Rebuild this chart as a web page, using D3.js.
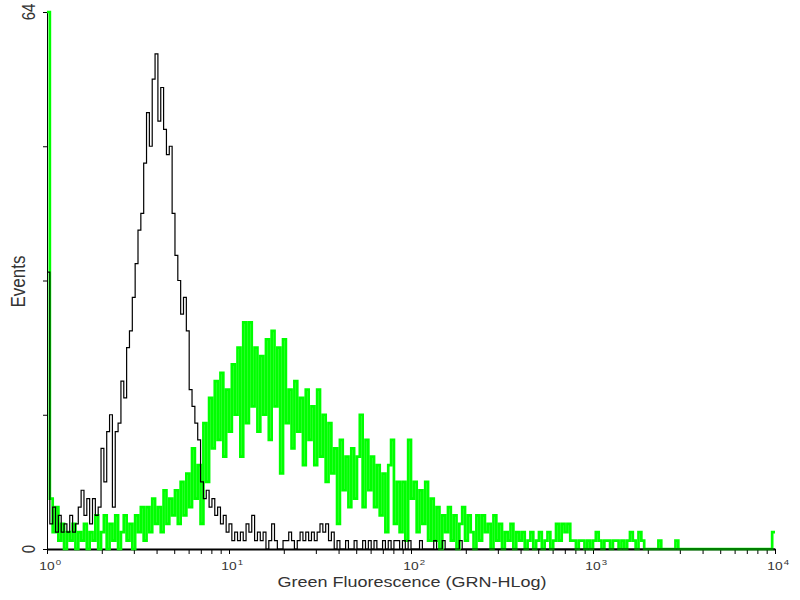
<!DOCTYPE html>
<html>
<head>
<meta charset="utf-8">
<script src="https://cdn.jsdelivr.net/npm/d3@7"></script>
<style>
  body { margin: 0; background: #fff; }
  svg text { font-family: "Liberation Sans", Arial, sans-serif; fill: #333; }
</style>
</head>
<body>
<script>
// counts per channel, 256 log channels spread over 4 decades
const controlCounts = [
  33, 3, 5, 2, 4, 2, 3, 2, 4, 2, 3, 5, 7, 4, 6, 3, 6, 4, 5, 12,
  8, 14, 16, 5, 14, 15, 20, 18, 24, 26, 30, 34, 38, 40, 46, 52, 48, 56, 59, 51,
  55, 50, 47, 48, 40, 35, 32, 28, 30, 26, 19, 17, 15, 13, 8, 6, 7, 5, 6, 4,
  5, 3, 4, 2, 3, 1, 2, 1, 2, 1, 3, 2, 4, 1, 2, 1, 2, 0, 1, 3,
  1, 0, 0, 1, 1, 2, 1, 0, 1, 2, 1, 2, 1, 2, 1, 2, 3, 2, 3, 1,
  2, 0, 1, 0, 0, 1, 0, 0, 1, 0, 0, 1, 0, 1, 0, 1, 0, 0, 1, 0,
  1, 0, 1, 1, 0, 1, 0, 1, 0, 0, 0, 1, 0, 0, 0, 0, 1, 0, 0, 1,
  0, 0, 0, 0, 0, 1, 0, 0, 0, 0, 0, 0, 0, 0, 0, 0, 0, 0, 0, 0,
  0, 0, 0, 0, 0, 0, 0, 0, 0, 0, 0, 0, 0, 0, 0, 0, 0, 0, 0, 0,
  0, 0, 0, 0, 0, 0, 0, 0, 0, 0, 0, 0, 0, 0, 0, 0, 0, 0, 0, 0,
  0, 0, 0, 0, 0, 0, 0, 0, 0, 0, 0, 0, 0, 0, 0, 0, 0, 0, 0, 0,
  0, 0, 0, 0, 0, 0, 0, 0, 0, 0, 0, 0, 0, 0, 0, 0, 0, 0, 0, 0,
  0, 0, 0, 0, 0, 0, 0, 0, 0, 0, 0, 0, 0, 0, 0, 0
];

const greenCounts = [
  64, 6, 2, 5, 1, 3, 0, 2, 1, 3, 0, 2, 1, 3, 0, 2, 1, 4, 0, 2,
  4, 0, 3, 1, 4, 0, 2, 4, 1, 3, 0, 4, 2, 5, 1, 5, 2, 6, 3, 5,
  2, 7, 3, 6, 4, 7, 3, 8, 4, 9, 5, 12, 6, 10, 3, 15, 8, 18, 12, 20,
  13, 21, 11, 19, 14, 22, 16, 24, 11, 27, 15, 27, 17, 24, 14, 23, 16, 25, 13, 26,
  17, 24, 9, 25, 15, 19, 12, 20, 14, 18, 10, 19, 13, 17, 10, 19, 11, 16, 8, 15,
  9, 12, 3, 13, 7, 11, 5, 12, 6, 11, 16, 5, 13, 7, 11, 5, 10, 4, 9, 2,
  10, 13, 3, 8, 2, 8, 1, 13, 6, 8, 2, 7, 3, 8, 1, 6, 1, 5, 0, 4,
  2, 5, 1, 4, 0, 3, 5, 1, 4, 2, 0, 4, 1, 4, 2, 3, 0, 4, 1, 3,
  0, 2, 1, 3, 0, 2, 1, 2, 0, 1, 2, 0, 1, 2, 0, 1, 2, 0, 1, 3,
  1, 3, 2, 3, 1, 1, 0, 1, 1, 0, 1, 0, 1, 2, 1, 0, 1, 1, 0, 1,
  1, 0, 1, 0, 1, 2, 1, 0, 2, 1, 0, 0, 0, 0, 0, 1, 0, 0, 0, 0,
  0, 1, 0, 0, 0, 0, 0, 0, 0, 0, 0, 0, 0, 0, 0, 0, 0, 0, 0, 0,
  0, 0, 0, 0, 0, 0, 0, 0, 0, 0, 0, 0, 0, 0, 0, 2
];

const decades = [0, 1, 2, 3, 4];
const yTicks = [0, 16, 32, 48, 64];
const yLabels = [0, 64];
const xTitle = "Green Fluorescence (GRN-HLog)";
const yTitle = "Events";

const stretch = 1.2; // the original picture is a bit wider than tall

function channelEdge(i) {
  // lower edge of channel i on the fluorescence axis
  return Math.pow(10, decades[decades.length - 1] * i / controlCounts.length);
}

function drawHistogram(svg, counts, x, y, color, strokeWidth) {
  // step outline of one histogram
  var points = counts.map((c, i) => [channelEdge(i), c]);
  points.push([channelEdge(counts.length), counts[counts.length - 1]]);

  var line = d3.line()
    .x(d => x(d[0]))
    .y(d => y(Math.min(d[1], 64)))
    .curve(d3.curveStepAfter);

  svg.append("path")
    .datum(points)
    .attr("d", line)
    .attr("fill", "none")
    .attr("stroke", color)
    .attr("stroke-width", strokeWidth);
}

function xAxis(svg, x, y) {
  var ticks = [];
  decades.slice(0, -1).forEach(p => {
    for (let k = 1; k < 10; k++) ticks.push(k * Math.pow(10, p));
  });
  ticks.push(Math.pow(10, decades[decades.length - 1]));

  var g = svg.append("g")
    .attr("transform", "translate(0," + y(0) + ")")
    .call(d3.axisBottom(x).tickValues(ticks).tickSize(5).tickSizeOuter(0).tickFormat(""));
  g.select(".domain").attr("stroke", "#000").attr("stroke-width", 2);
  g.selectAll(".tick line").attr("stroke", "#000");

  // decade labels as 10 with a superscript power
  decades.forEach(p => {
    var t = svg.append("g")
      .attr("transform", "translate(" + x(Math.pow(10, p)) + ",570) scale(" + stretch + ",1)")
      .append("text")
      .attr("x", -6.4)
      .style("font-size", "11.5px");
    t.append("tspan").text("10");
    t.append("tspan").attr("dy", -5).attr("dx", 1).style("font-size", "8px").text(p);
  });

  svg.append("g")
    .attr("transform", "translate(" + ((x.range()[0] + x.range()[1]) / 2 + 1) + ",587) scale(" + stretch + ",1)")
    .append("text")
    .attr("text-anchor", "middle")
    .style("font-size", "15px")
    .text(xTitle);
}

function yAxis(svg, x, y) {
  var g = svg.append("g")
    .attr("transform", "translate(" + x.range()[0] + ",0)")
    .call(d3.axisLeft(y).tickValues(yTicks).tickSize(4).tickSizeOuter(0).tickFormat(""));
  g.select(".domain").attr("stroke", "#000");
  g.selectAll(".tick line").attr("stroke", "#000");

  yLabels.forEach(v => {
    svg.append("g")
      .attr("transform", "translate(35," + y(v) + ") scale(" + stretch + ",1) rotate(-90)")
      .append("text")
      .attr("text-anchor", "middle")
      .style("font-size", "15px")
      .text(v);
  });

  svg.append("g")
    .attr("transform", "translate(25," + ((y.range()[0] + y.range()[1]) / 2 + 1) + ") scale(" + stretch + ",1) rotate(-90)")
    .append("text")
    .attr("text-anchor", "middle")
    .style("font-size", "17px")
    .text(yTitle);
}

function main() {
  let svg = d3.select("body")
    .append("svg")
    .attr("width", 800)
    .attr("height", 600)
    .attr("style", "background: #fff");

  let x = d3.scaleLog()
    .domain([1, Math.pow(10, decades[decades.length - 1])])
    .range([47, 775]);

  let y = d3.scaleLinear()
    .domain([yTicks[0], yTicks[yTicks.length - 1]])
    .range([549, 12]);

  xAxis(svg, x, y);
  yAxis(svg, x, y);
  drawHistogram(svg, greenCounts, x, y, "#00ff00", 2.7);
  drawHistogram(svg, controlCounts, x, y, "#000", 1.2);
}

main();
</script>
</body>
</html>
